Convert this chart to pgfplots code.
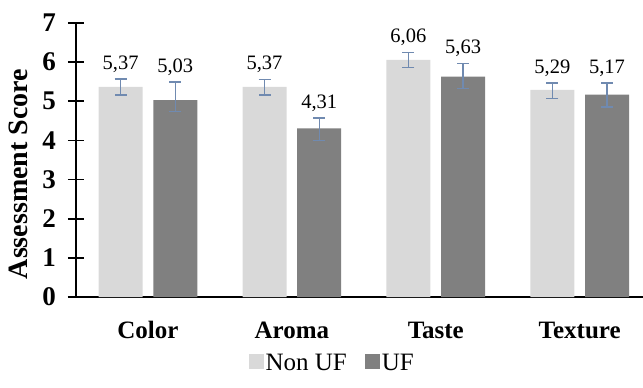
\documentclass[border=0pt]{standalone}
\usepackage{fontspec}
\setmainfont{Liberation Serif}
\usepackage{pgfplots}
\usepackage{pgfplotstable}
\pgfplotsset{compat=1.18}
\definecolor{nonuf}{RGB}{217,217,217}
\definecolor{uf}{RGB}{128,128,128}
\definecolor{errc}{RGB}{112,138,176}

\pgfplotstableread{
x y ep em
0 5.37 0.20 0.21
1 5.37 0.18 0.21
2 6.06 0.18 0.20
3 5.29 0.18 0.22
}\nonuf
\pgfplotstableread{
x y ep em
0 5.03 0.46 0.29
1 4.31 0.26 0.31
2 5.63 0.34 0.31
3 5.17 0.30 0.32
}\ufdata

\begin{document}
\begin{tikzpicture}
\begin{axis}[
  scale only axis,
  width=567pt, height=274pt,
  xmin=-0.5, xmax=3.44,
  ymin=0, ymax=7,
  ytick={0,1,...,7},
  xtick={0,1,2,3},
  xticklabels={Color,Aroma,Taste,Texture},
  axis y line*=left,
  axis x line*=bottom,
  x axis line style={line width=1.6pt, shorten <=-8pt},
  y axis line style={line width=1.6pt},
  tick align=center,
  major tick length=16pt,
  ytick style={line width=1.6pt, black},
  xtick style={draw=none},
  /pgf/number format/assume math mode=true,
  yticklabel style={font=\bfseries\fontsize{27}{27}\selectfont, anchor=east, inner sep=0pt, xshift=-12pt},
  xticklabel style={font=\bfseries\fontsize{25}{25}\selectfont, anchor=base, inner sep=0pt, yshift=-33pt},
  ylabel={Assessment Score},
  every axis y label/.style={at={([xshift=-58pt,yshift=-14pt]rel axis cs:0,0.5)}, rotate=90, anchor=center, font=\bfseries\fontsize{28}{28}\selectfont},
  legend style={at={(axis description cs:0.452,-0.24)}, anchor=center, draw=none, fill=none,
    legend columns=2, font=\fontsize{25}{25}\selectfont,
    nodes={inner sep=2pt},
    /tikz/every even column/.append style={column sep=16pt}},
  legend image code/.code={\fill[#1] (0pt,-6pt) rectangle (15pt,9pt);},
  clip=false,
]
\addplot[ybar, bar width=0.306, bar shift=0, fill=nonuf, draw=none,
  error bars/.cd, y dir=both, y explicit,
  error bar style={line width=1.4pt, errc},
  error mark options={line width=1.4pt, mark size=6pt, errc, rotate=90}]
  table[x expr=\thisrow{x}-0.19, y=y, y error plus=ep, y error minus=em] {\nonuf};
\addlegendentry{Non UF}
\addplot[ybar, bar width=0.306, bar shift=0, fill=uf, draw=none,
  error bars/.cd, y dir=both, y explicit,
  error bar style={line width=1.4pt, errc},
  error mark options={line width=1.4pt, mark size=6pt, errc, rotate=90}]
  table[x expr=\thisrow{x}+0.19, y=y, y error plus=ep, y error minus=em] {\ufdata};
\addlegendentry{UF}
\addplot[draw=none, mark=none, forget plot, nodes near coords, point meta=\thisrow{y},
  nodes near coords style={font=\fontsize{20.5}{20.5}\selectfont, anchor=center, yshift=15pt,
    /pgf/number format/.cd, fixed, precision=2, fixed zerofill, use comma, assume math mode=true}]
  table[x expr=\thisrow{x}-0.19, y expr=\thisrow{y}+\thisrow{ep}] {\nonuf};
\addplot[draw=none, mark=none, forget plot, nodes near coords, point meta=\thisrow{y},
  nodes near coords style={font=\fontsize{20.5}{20.5}\selectfont, anchor=center, yshift=15pt,
    /pgf/number format/.cd, fixed, precision=2, fixed zerofill, use comma, assume math mode=true}]
  table[x expr=\thisrow{x}+0.19, y expr=\thisrow{y}+\thisrow{ep}] {\ufdata};
\end{axis}
\pgfresetboundingbox
\path[use as bounding box] (-76pt,-91pt) rectangle (567pt,297pt);
\end{tikzpicture}
\end{document}
